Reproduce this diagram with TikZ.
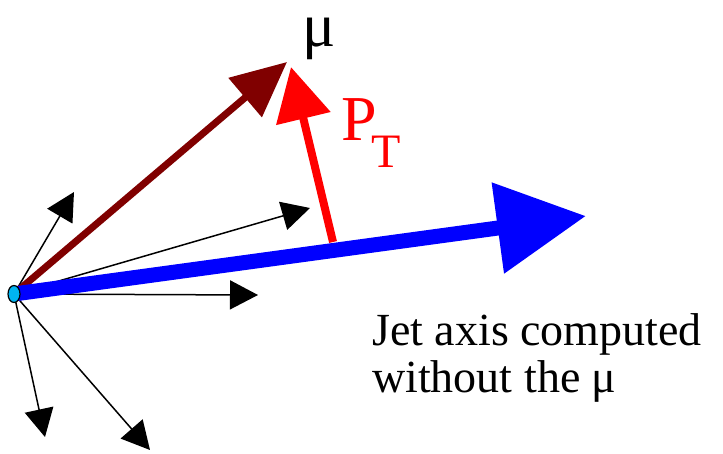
\documentclass[tikz,border=0pt]{standalone}
\usepackage{fontspec}
\setmainfont{Liberation Serif}
\usetikzlibrary{arrows.meta,shapes.geometric}
\definecolor{darkred}{RGB}{128,0,0}
\definecolor{pureblue}{RGB}{0,0,255}
\definecolor{purered}{RGB}{255,0,0}
\definecolor{vtxcyan}{RGB}{0,180,240}
\begin{document}
\begin{tikzpicture}[x=1pt,y=-1pt,
  track/.style={line width=1.5pt,black,-{Triangle[length=28pt,width=29pt]}},
  muon/.style={line width=7pt,darkred,-{Triangle[length=55pt,width=50pt]}},
  jetaxis/.style={line width=15pt,pureblue,-{Triangle[length=89pt,width=88pt]}},
  ptarrow/.style={line width=8pt,purered,-{Triangle[length=53pt,width=54pt]}},
  vertex/.style={ellipse,draw=black,line width=1.2pt,fill=vtxcyan,minimum width=12pt,minimum height=17pt,inner sep=0pt},
  lbl/.style={inner sep=0pt,anchor=base west}
]
\useasboundingbox (0,0) rectangle (723,453);
\coordinate (o) at (14,294);
\coordinate (t1) at (74,192);
\coordinate (t2) at (310,208);
\coordinate (t3) at (258,295);
\coordinate (t4) at (45,437);
\coordinate (t5) at (150,450);
\coordinate (mutip) at (287,62);
\coordinate (jettip) at (586,216);
\coordinate (ptbase) at (333,242);
\coordinate (pttip) at (291,67);
\draw[track] (o) -- (t1);
\draw[track] (o) -- (t2);
\draw[track] (o) -- (t3);
\draw[track] (o) -- (t4);
\draw[track] (o) -- (t5);
\draw[muon] (o) -- (mutip);
\draw[jetaxis] (o) -- (jettip);
\draw[ptarrow] (ptbase) -- (pttip);
\node[vertex] (O) at (o) {};
\node[lbl,font=\fontsize{62}{62}\selectfont] (mu) at (302,46) {μ};
\node[lbl,text=purered,font=\fontsize{64}{64}\selectfont] (P) at (341,140) {P};
\node[lbl,text=purered,font=\fontsize{48}{48}\selectfont] (T) at (371,167) {T};
\node[lbl,font=\fontsize{46}{46}\selectfont] (l1) at (372,345) {Jet axis computed};
\node[lbl,font=\fontsize{46}{46}\selectfont] (l2) at (372,392) {without the μ};
\end{tikzpicture}
\end{document}
